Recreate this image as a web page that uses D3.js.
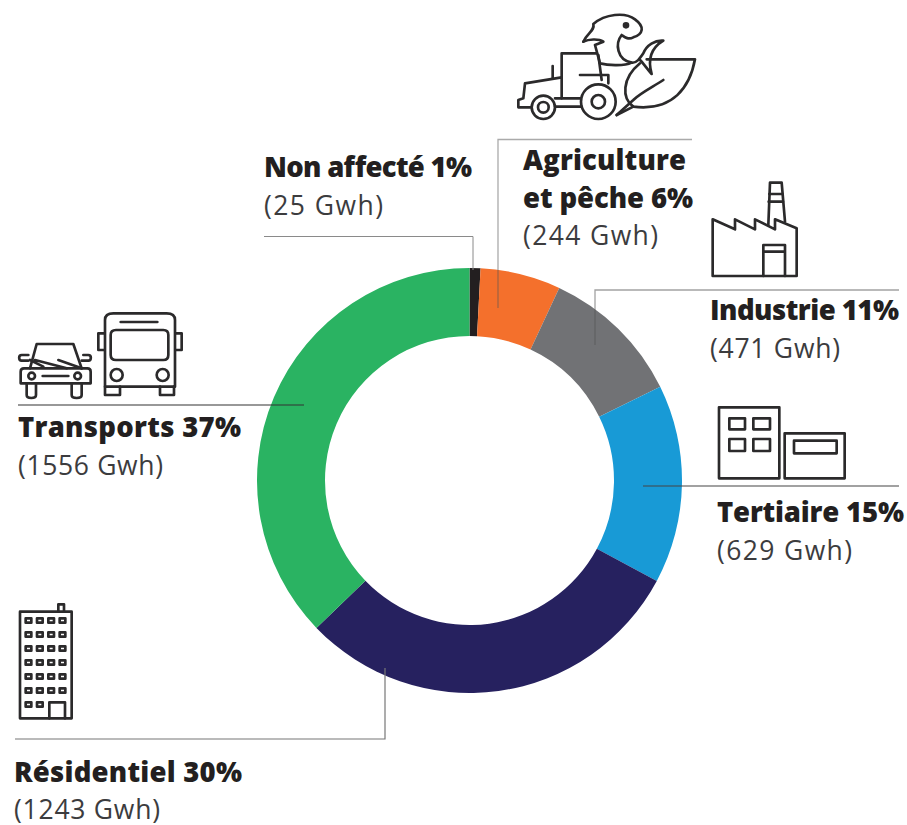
<!DOCTYPE html>
<html>
<head>
<meta charset="utf-8">
<script src="https://cdn.jsdelivr.net/npm/d3@7"></script>
<style>
html, body { margin: 0; padding: 0; background: #fff; }
svg { display: block; }
text { font-family: "Open Sans", sans-serif; }
</style>
</head>
<body>
<div id="chart"></div>
<script>
// Ring shares in percent, measured from the slice edges in the picture, clockwise from the top
const sectors = ["Non affecté", "Agriculture et pêche", "Industrie", "Tertiaire", "Résidentiel", "Transports"];
const shares = [0.83, 6.11, 10.79, 15.1, 29.97, 37.2];
const colors = ["#231f20", "#f4702c", "#717275", "#189ad6", "#26215f", "#2ab362"];
const boldLabels = [["Non affecté 1%"], ["Agriculture", "et pêche 6%"], ["Industrie 11%"], ["Tertiaire 15%"], ["Résidentiel 30%"], ["Transports 37%"]];
const gwhLabels = ["(25 Gwh)", "(244 Gwh)", "(471 Gwh)", "(629 Gwh)", "(1243 Gwh)", "(1556 Gwh)"];

const width = 907, height = 825;

const svg = d3.select("#chart").append("svg")
    .attr("width", width)
    .attr("height", height);

//Donut
const pie = d3.pie().sort(null).value(d => d);
const arc = d3.arc().innerRadius(144.5).outerRadius(212.5);

svg.append("g")
    .attr("transform", "translate(469.5,480.5)")
    .selectAll("path")
    .data(pie(shares))
    .enter()
    .append("path")
    .attr("d", arc)
    .attr("fill", (d, i) => colors[i]);

//Leader lines
const leaders = [
    { d: "M264,236.5H473V270", color: "#8a8a8a", w: 1 },
    { d: "M692,139.5H498V308", color: "#555", w: 1.3, op: 0.5 },
    { d: "M899,290H595V345", color: "#555", w: 1.3, op: 0.55 },
    { d: "M899,486H643", color: "#444", w: 1.2 },
    { d: "M18,405H304", color: "#333", w: 1.2 },
    { d: "M15,739H385V668", color: "#777", w: 1.2 }
];
svg.append("g").selectAll("path")
    .data(leaders)
    .enter()
    .append("path")
    .attr("d", d => d.d)
    .attr("fill", "none")
    .attr("stroke", d => d.color)
    .attr("stroke-width", d => d.w)
    .attr("stroke-opacity", d => d.op || 1);

//Labels, each line fitted to the width it has in the picture
const labelPos = [
    { x: 264, y: 177, bold: [208], reg: 119 },
    { x: 523, y: 170, bold: [163, 170], reg: 135 },
    { x: 710, y: 320, bold: [189], reg: 130 },
    { x: 717, y: 522, bold: [187], reg: 135 },
    { x: 14, y: 782, bold: [228], reg: 146, regY: 818.5 },
    { x: 18, y: 437, bold: [223], reg: 145 }
];
const lineGap = 37.5;

labelPos.forEach((p, i) => {
    const lines = boldLabels[i];
    const g = svg.append("g");
    lines.forEach((t, j) => {
        g.append("text")
            .attr("x", p.x)
            .attr("y", p.y + j * lineGap)
            .attr("font-size", 27.5)
            .attr("font-weight", 800)
            .attr("fill", "#231f20")
            .attr("textLength", p.bold[j])
            .attr("lengthAdjust", "spacing")
            .text(t);
    });
    g.append("text")
        .attr("x", p.x)
        .attr("y", p.regY || p.y + lines.length * lineGap)
        .attr("font-size", 26.5)
        .attr("font-weight", 400)
        .attr("fill", "#3c3c3e")
        .attr("textLength", p.reg)
        .attr("lengthAdjust", "spacing")
        .text(gwhLabels[i]);
});

//Icons, traced in the zoomed crop units (3x)
const icons = [
    { at: [500, 0], paths: [
        "M185,232L75,250L70,295L55,300V322H92",
        "M185,295V160H290",
        "M165,295H240M165,320H245",
        "M158,232V198",
        "M240,225H325V250",
        "M295,165L305,240",
        "M250,125C262,98 285,92 280,72C315,42 375,35 405,58C435,80 430,102 400,112C385,120 375,112 365,105C345,130 350,180 395,188C410,190 420,175 430,160C440,135 465,120 490,122C460,140 440,170 455,222C440,205 430,190 420,180",
        "M250,125C265,118 295,115 310,125L285,135L300,190C320,195 370,200 395,188",
        "M440,178L585,178C570,260 520,335 400,320C365,295 365,235 420,190",
        "M350,345L400,300C420,280 460,260 490,240",
        "M400,320L350,345"
    ], circles: [[130, 322, 35], [130, 322, 16], [295, 305, 52], [295, 305, 20]], dots: [[378, 76, 6]] },
    { at: [0, 300], paths: [
        "M90,205L110,132H220L245,205",
        "M62,215C62,208 66,205 72,205H262C268,205 272,208 272,215V250H62Z",
        "M90,180L130,200M105,180L200,205M175,180L245,205",
        "M85,165H65C55,165 55,182 65,182H85M250,165H265C275,165 275,182 265,182H245",
        "M80,250V285C80,297 108,297 108,285V250M215,250V285C215,297 245,297 245,285V250",
        "M128,228H205",
        "M315,60C315,45 325,40 340,40H500C515,40 525,45 525,60V260H315Z",
        "M362,66H472",
        "M332,105C332,95 338,90 348,90H490C500,90 505,95 505,105V165C505,175 500,180 490,180H348C338,180 332,175 332,165Z",
        "M312,100H295V150H312M528,100H545V150H528",
        "M315,260V285H360V260M480,260V285H522V260"
    ], circles: [[95, 228, 10], [233, 228, 10], [350, 225, 18], [488, 225, 18]] },
    { at: [700, 170], paths: [
        "M38,318V148L105,178V148L165,178V148L225,178V148L290,175V318Z",
        "M205,165L210,38H245L255,155",
        "M208,72H247M206,95H249",
        "M190,318V225H255V318M190,245H255"
    ] },
    { at: [700, 395], paths: [
        "M57,37H238V250H57Z",
        "M254,115H434V250H254Z",
        "M88,70H135V103H88ZM160,70H210V103H160ZM88,132H135V168H88ZM160,132H210V168H160Z",
        "M282,137H410V175H282Z"
    ] },
    { at: [0, 595], paths: [
        "M60,50H215V370H60Z",
        "M175,50V28H192V50",
        "M148,370V322H195V370"
    ].concat(d3.merge(d3.range(7).map(r => d3.range(r === 6 ? 2 : 4).map(c =>
        "M" + (77 + c * 34) + "," + (70 + r * 42) + "h17v13h-17Z")))) }
];

icons.forEach(ic => {
    const g = svg.append("g")
        .attr("transform", "translate(" + ic.at[0] + "," + ic.at[1] + ") scale(" + (1 / 3) + ")")
        .attr("fill", "none")
        .attr("stroke", "#2b2a2b")
        .attr("stroke-width", 8)
        .attr("stroke-linejoin", "round")
        .attr("stroke-linecap", "round");
    ic.paths.forEach(p => g.append("path").attr("d", p));
    (ic.circles || []).forEach(c => g.append("circle").attr("cx", c[0]).attr("cy", c[1]).attr("r", c[2]));
    (ic.dots || []).forEach(c => g.append("circle").attr("cx", c[0]).attr("cy", c[1]).attr("r", c[2]).attr("fill", "#2b2a2b"));
});
</script>
</body>
</html>
